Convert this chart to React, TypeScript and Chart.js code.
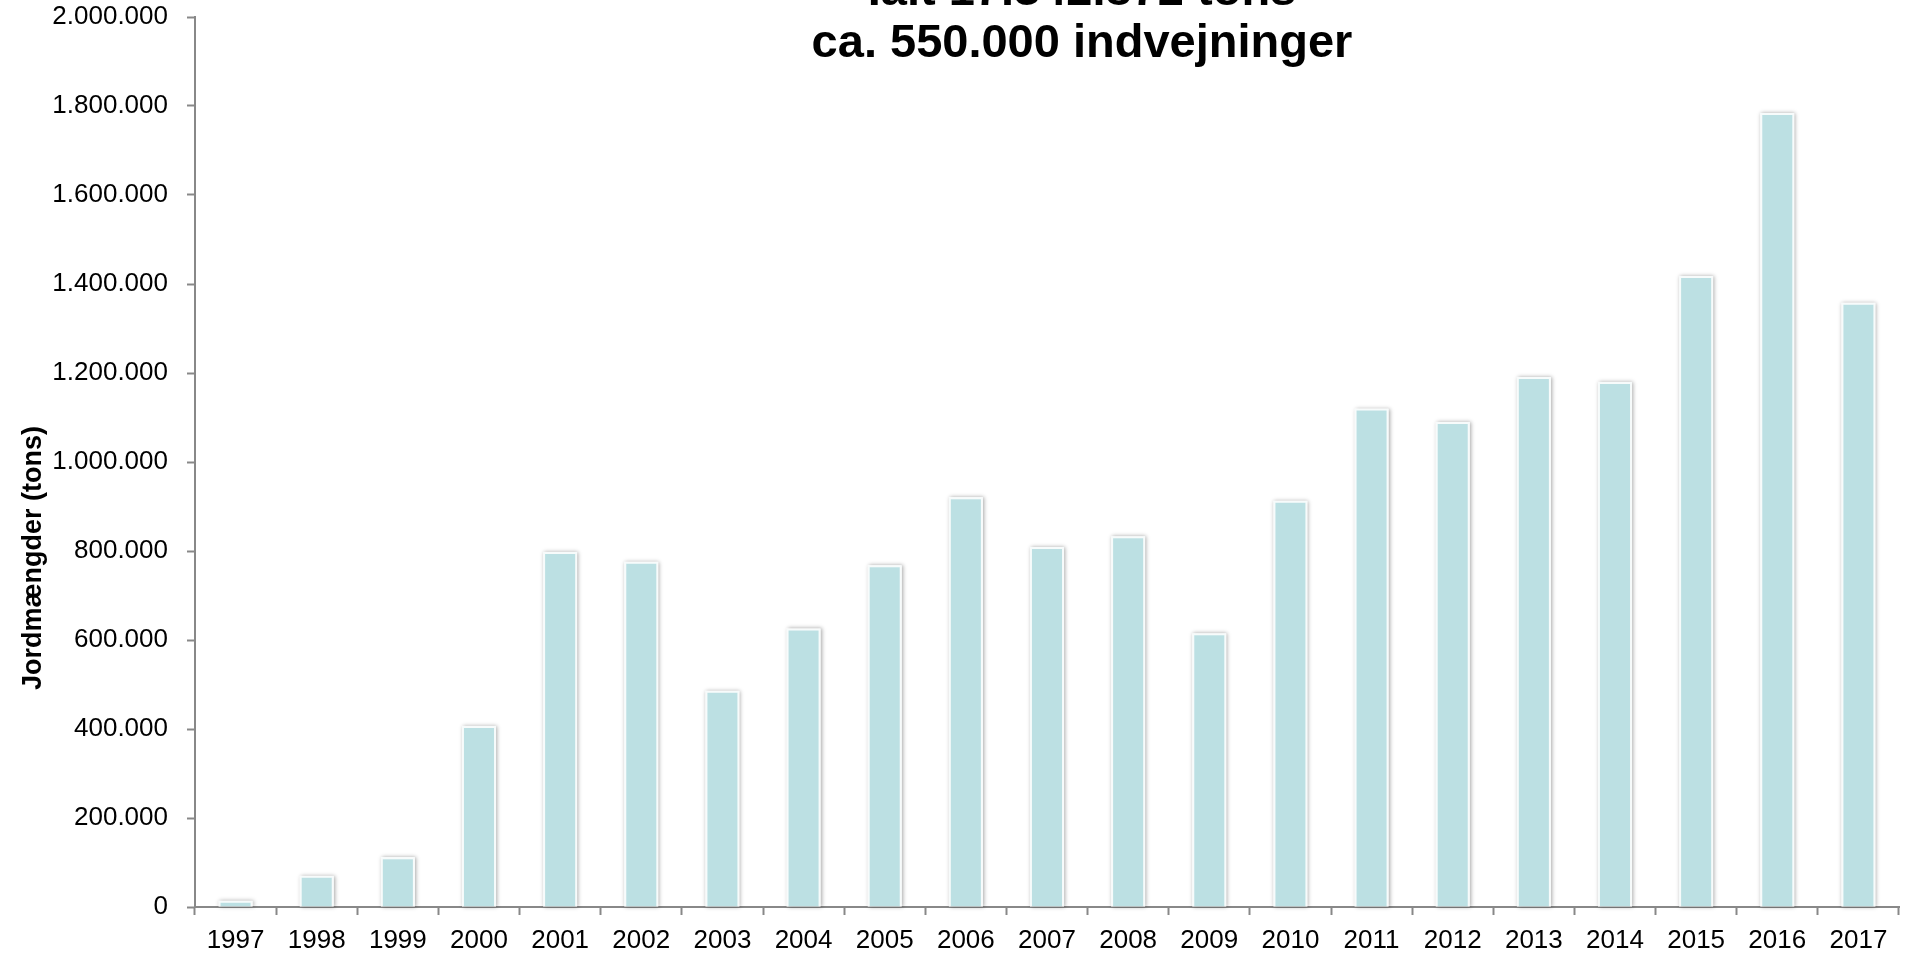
import React, { useEffect, useRef } from "react";
import { Chart, registerables } from "chart.js";

Chart.register(...registerables);

const FONT = "'Liberation Sans', Arial, sans-serif";

const years = [
  "1997", "1998", "1999", "2000", "2001", "2002", "2003", "2004", "2005", "2006", "2007",
  "2008", "2009", "2010", "2011", "2012", "2013", "2014", "2015", "2016", "2017",
];

const tons = [
  14000, 70000, 112000, 407000, 798000, 776000, 486000, 626000, 768000, 921000, 809000,
  833000, 615000, 913000, 1120000, 1090000, 1191000, 1180000, 1418000, 1784000, 1358000,
];

const yTicks = [0, 200000, 400000, 600000, 800000, 1000000, 1200000, 1400000, 1600000, 1800000, 2000000];

const titleLines = ["Ialt 17.342.872 tons", "ca. 550.000 indvejninger"];
const yAxisTitle = "Jordmængder (tons)";

const fmt = (v: number) => String(Math.round(v)).replace(/\B(?=(\d{3})+(?!\d))/g, ".");

const titlePlugin = {
  id: "topTitle",
  afterDraw(chart: any) {
    const ctx = chart.ctx;
    ctx.save();
    ctx.fillStyle = "#000";
    ctx.textAlign = "center";
    ctx.textBaseline = "alphabetic";
    ctx.font = `bold 47px ${FONT}`;
    const cx = 1082;
    ctx.fillText(titleLines[0], cx, 5);
    ctx.fillText(titleLines[1], cx, 57);
    // y-axis title, rotated
    ctx.font = `bold 27px ${FONT}`;
    ctx.textBaseline = "middle";
    ctx.translate(34, 558);
    ctx.rotate(-Math.PI / 2);
    ctx.fillText(yAxisTitle, 0, 0);
    ctx.restore();
  },
};

const shadowPlugin = {
  id: "barShadow",
  beforeDatasetsDraw(chart: any) {
    const ctx = chart.ctx;
    const meta = chart.getDatasetMeta(0);
    ctx.save();
    ctx.shadowColor = "rgba(0,0,0,0.35)";
    ctx.shadowBlur = 4;
    ctx.shadowOffsetX = 1;
    ctx.shadowOffsetY = 0;
    ctx.fillStyle = "#ffffff";
    meta.data.forEach((bar: any) => {
      const { x, y, base, width } = bar.getProps(["x", "y", "base", "width"], true);
      ctx.fillRect(x - width / 2, y, width, base - y);
    });
    ctx.restore();
  },
};

export default function App() {
  const ref = useRef<HTMLCanvasElement | null>(null);

  useEffect(() => {
    if (!ref.current) return;
    Chart.defaults.font.family = FONT;
    const chart = new Chart(ref.current, {
      type: "bar",
      data: {
        labels: years,
        datasets: [
          {
            data: tons,
            backgroundColor: "#BCE0E3",
            borderColor: "#F7FBFB",
            borderWidth: 2,
            barPercentage: 0.42,
            categoryPercentage: 1,
          },
        ],
      },
      options: {
        animation: false,
        responsive: true,
        maintainAspectRatio: false,
        layout: { padding: { left: 0, top: 17, right: 6, bottom: 0 } },
        plugins: {
          legend: { display: false },
          tooltip: { enabled: false },
          title: { display: false },
        },
        scales: {
          x: {
            grid: {
              display: true,
              drawOnChartArea: false,
              drawTicks: true,
              tickLength: 8,
              tickColor: "#888888",
              tickWidth: 2,
              offset: true,
            },
            border: { display: true, color: "#888888", width: 2 },
            ticks: {
              color: "#000",
              font: { size: 26, family: FONT },
              padding: 10,
              maxRotation: 0,
              autoSkip: false,
            },
            afterFit: (s: any) => {
              s.height = 48;
              s.paddingLeft = 0;
              s.paddingRight = 0;
            },
          },
          y: {
            min: 0,
            max: 2000000,
            afterBuildTicks: (s: any) => {
              s.ticks = yTicks.map((v) => ({ value: v }));
            },
            grid: {
              display: true,
              drawOnChartArea: false,
              tickLength: 8,
              tickColor: "#888888",
              tickWidth: 2,
            },
            border: { display: true, color: "#888888", width: 2 },
            ticks: {
              color: "#000",
              font: { size: 26, family: FONT },
              padding: 19,
              callback: (v: any) => fmt(Number(v)),
            },
            afterFit: (s: any) => {
              s.width = 195;
              s.paddingTop = 0;
              s.paddingBottom = 0;
            },
          },
        },
      },
      plugins: [shadowPlugin, titlePlugin],
    } as any);
    return () => chart.destroy();
  }, []);

  return (
    <div style={{ position: "fixed", left: 0, top: 0, width: 1905, height: 955, background: "#fff" }}>
      <canvas ref={ref} />
    </div>
  );
}
